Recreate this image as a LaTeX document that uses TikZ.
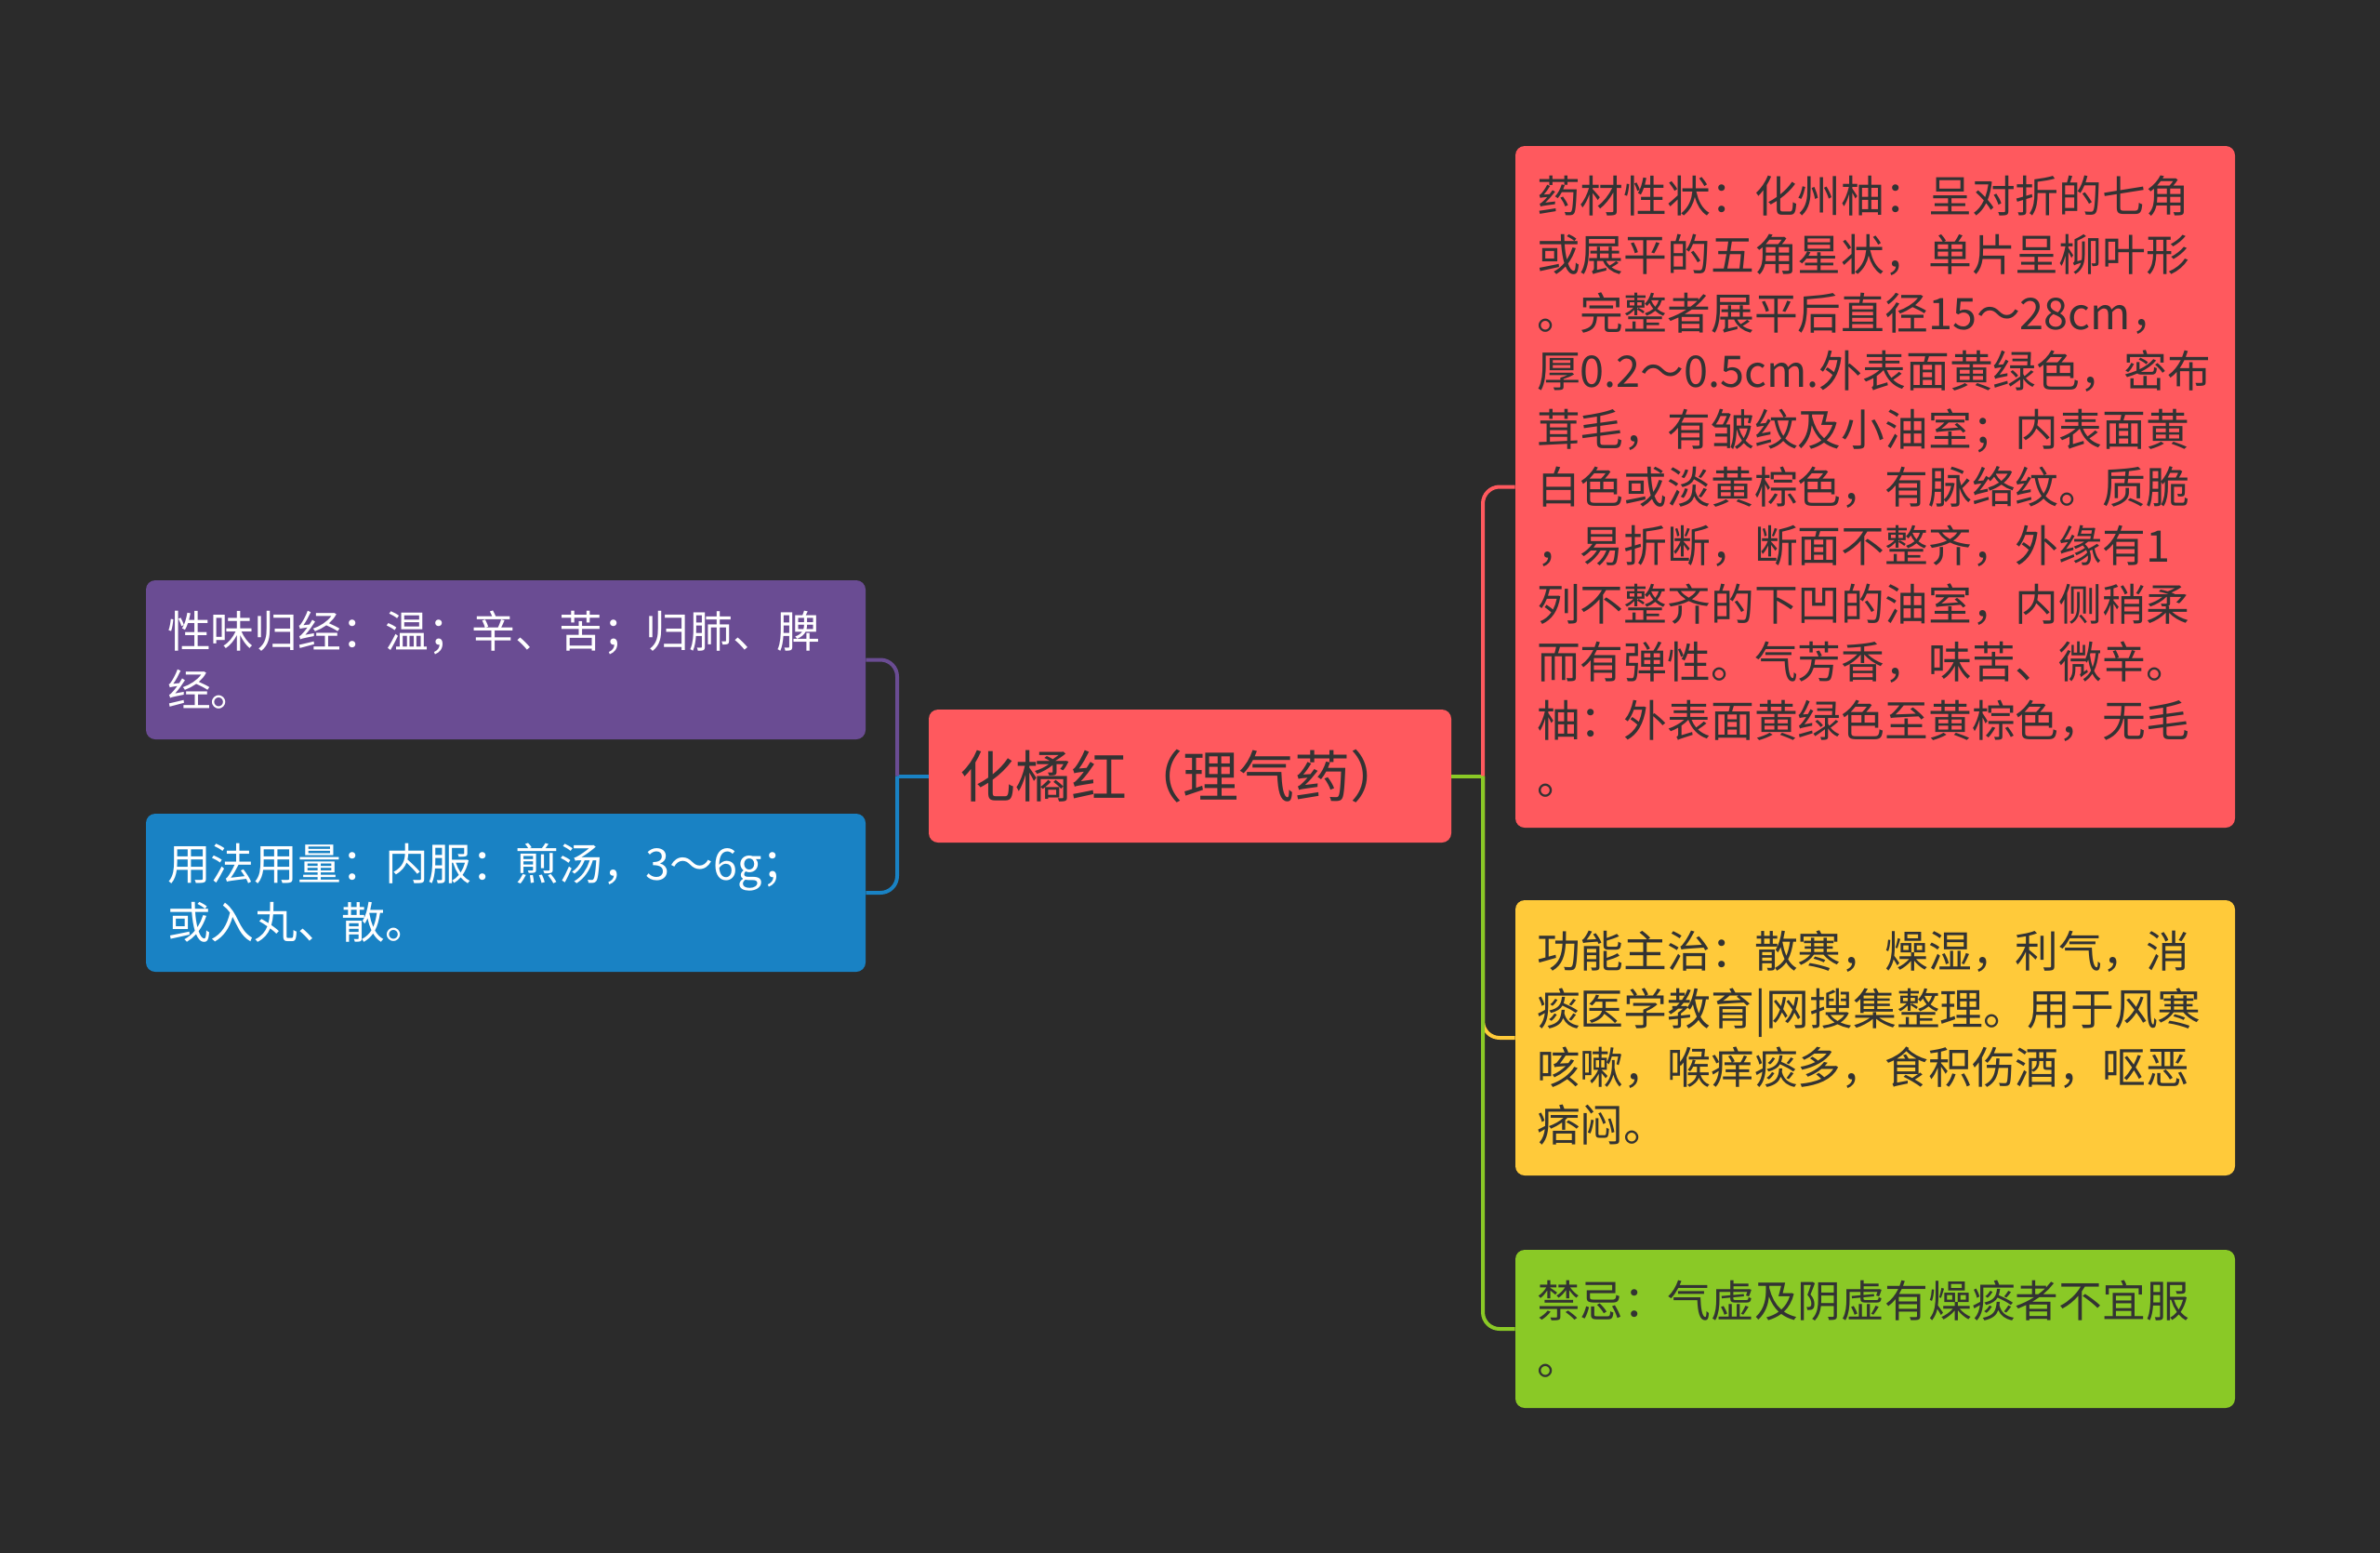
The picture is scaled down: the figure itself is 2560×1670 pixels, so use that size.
\documentclass[tikz,border=0pt]{standalone}
\usepackage{fontspec}
\usepackage{xcolor}
\usepackage{tikz}
\usetikzlibrary{positioning}
\newfontfamily\cjk{Noto Sans CJK SC}
\definecolor{xbg}{HTML}{2B2B2B}
\definecolor{xred}{HTML}{FF595E}
\definecolor{xyellow}{HTML}{FFCA3A}
\definecolor{xgreen}{HTML}{8AC926}
\definecolor{xblue}{HTML}{1982C4}
\definecolor{xpurple}{HTML}{6A4C93}
\definecolor{xink}{HTML}{333333}

\begin{document}
\begin{tikzpicture}[x=0.5pt, y=-0.5pt,
  root/.style={fill=xred, rounded corners=5pt, minimum width=281pt, minimum height=71.5pt,
               text width=248pt, inner xsep=16.5pt, align=left, text=xink,
               font=\cjk\fontsize{30}{36}\selectfont},
  leaf/.style={rounded corners=5pt, minimum width=387pt, text width=364pt,
               inner xsep=11.5pt, inner ysep=8pt, align=left,
               font=\cjk\fontsize{23.4}{31.3}\selectfont},
  dark/.style={leaf, text=xink},
  light/.style={leaf, text=white},
  link/.style={line width=2pt, rounded corners=9pt}
]
  \fill[xbg] (0,0) rectangle (2560,1670);

  \node[root] (root) at (1280,834.5) {化橘红（理气药）};

  % left branches
  \node[light, fill=xpurple, minimum height=85.5pt] (nature) at (544,709.5)
    {性味归经：温；辛、苦；归肺、脾\\经。};
  \node[light, fill=xblue, minimum height=85pt] (usage) at (544,960)
    {用法用量：内服：煎汤，3～6g；\\或入丸、散。};

  % right branches
  \node[dark, fill=xred, minimum height=366.5pt] (herb) at (2017,523.5)
    {药材性状：化州柚：呈对折的七角\\或展平的五角星状，单片呈柳叶形\\。完整者展平后直径15～28cm，\\厚0.2～0.5cm.外表面黄绿色，密布\\茸毛，有皱纹及小油室；内表面黄\\白色或淡黄棕色，有脉络纹。质脆\\，易折断，断面不整齐，外缘有1\\列不整齐的下凹的油室，内侧稍柔\\而有弹性。气芳香，味苦、微辛。\\柚：外表面黄绿色至黄棕色，无毛\\。};
  \node[dark, fill=xyellow, minimum height=148pt] (func) at (2017,1116)
    {功能主治：散寒，燥湿，利气，消\\痰医学教育|网搜集整理。用于风寒\\咳嗽，喉痒痰多，食积伤酒，呕恶\\痞闷。};
  \node[dark, fill=xgreen, minimum height=85pt] (taboo) at (2017,1429)
    {禁忌：气虚及阴虚有燥痰者不宜服\\。};

  \coordinate (jl) at (965,834.5);
  \coordinate (jr) at (1595,834.5);

  \draw[link, xblue]   (root.west) -- (jl);
  \draw[link, xpurple] (jl) |- (nature.east);
  \draw[link, xblue]   (jl) |- (usage.east);

  \draw[link, xgreen]  (root.east) -- (jr);
  \draw[link, xred]    (jr) |- (herb.west);
  \draw[link, xyellow] (jr) |- (func.west);
  \draw[link, xgreen]  (jr) |- (taboo.west);
\end{tikzpicture}
\end{document}
